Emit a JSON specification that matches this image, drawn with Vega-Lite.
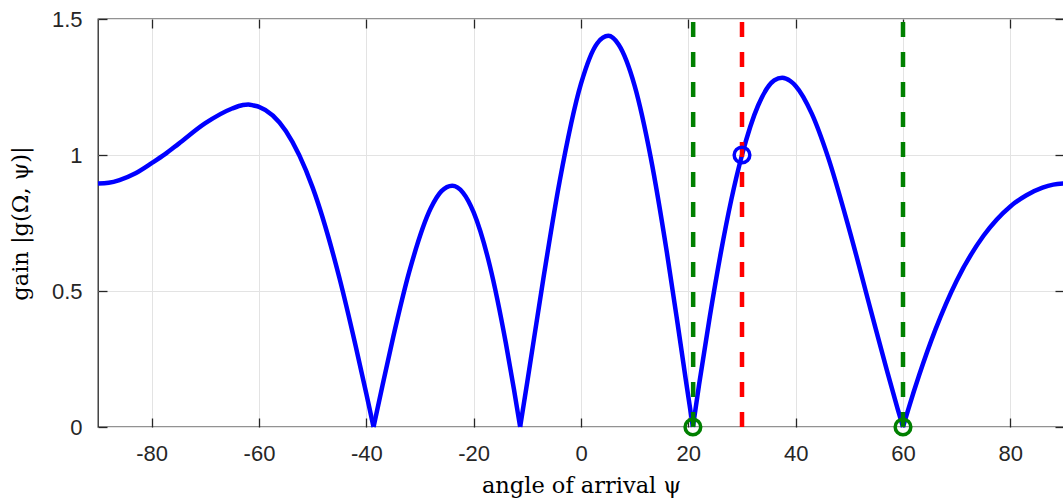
{
  "$schema": "https://vega.github.io/schema/vega-lite/v6.json",
  "width": 966,
  "height": 408,
  "autosize": {"type": "none"},
  "padding": {"left": 98, "top": 19, "right": 0, "bottom": 73},
  "background": "white",
  "config": {
    "view": {"stroke": "#262626", "strokeWidth": 1.3},
    "axis": {
      "labelFont": "Liberation Sans",
      "labelFontSize": 22,
      "labelColor": "#262626",
      "titleFont": "DejaVu Serif",
      "titleFontWeight": "normal",
      "titleColor": "#000000",
      "titleFontSize": 22.5,
      "tickColor": "#262626",
      "tickWidth": 1.3,
      "domainColor": "#262626",
      "gridColor": "#e3e3e3",
      "gridWidth": 1
    }
  },
  "datasets": {
    "curve": [
      {"psi": -90, "g": 0.895, "lobe": 1},
      {"psi": -88, "g": 0.898, "lobe": 1},
      {"psi": -86, "g": 0.908, "lobe": 1},
      {"psi": -83, "g": 0.933, "lobe": 1},
      {"psi": -80, "g": 0.970, "lobe": 1},
      {"psi": -77.5, "g": 1.003, "lobe": 1},
      {"psi": -75, "g": 1.041, "lobe": 1},
      {"psi": -70, "g": 1.117, "lobe": 1},
      {"psi": -65, "g": 1.171, "lobe": 1},
      {"psi": -63, "g": 1.184, "lobe": 1},
      {"psi": -62, "g": 1.186, "lobe": 1},
      {"psi": -61, "g": 1.182, "lobe": 1},
      {"psi": -60, "g": 1.177, "lobe": 1},
      {"psi": -55, "g": 1.088, "lobe": 1},
      {"psi": -50, "g": 0.880, "lobe": 1},
      {"psi": -45, "g": 0.547, "lobe": 1},
      {"psi": -42, "g": 0.299, "lobe": 1},
      {"psi": -40, "g": 0.122, "lobe": 1},
      {"psi": -38.66, "g": 0, "lobe": 1},
      {"psi": -38.66, "g": 0, "lobe": 2},
      {"psi": -37, "g": 0.152, "lobe": 2},
      {"psi": -35, "g": 0.330, "lobe": 2},
      {"psi": -32, "g": 0.571, "lobe": 2},
      {"psi": -28, "g": 0.804, "lobe": 2},
      {"psi": -26, "g": 0.867, "lobe": 2},
      {"psi": -24, "g": 0.887, "lobe": 2},
      {"psi": -22, "g": 0.862, "lobe": 2},
      {"psi": -20, "g": 0.789, "lobe": 2},
      {"psi": -17, "g": 0.594, "lobe": 2},
      {"psi": -14, "g": 0.308, "lobe": 2},
      {"psi": -12.5, "g": 0.139, "lobe": 2},
      {"psi": -11.34, "g": 0, "lobe": 2},
      {"psi": -11.34, "g": 0, "lobe": 3},
      {"psi": -10, "g": 0.167, "lobe": 3},
      {"psi": -7, "g": 0.547, "lobe": 3},
      {"psi": -4, "g": 0.901, "lobe": 3},
      {"psi": 0, "g": 1.262, "lobe": 3},
      {"psi": 3, "g": 1.410, "lobe": 3},
      {"psi": 5.1, "g": 1.438, "lobe": 3},
      {"psi": 7, "g": 1.406, "lobe": 3},
      {"psi": 10, "g": 1.254, "lobe": 3},
      {"psi": 13, "g": 0.990, "lobe": 3},
      {"psi": 16, "g": 0.642, "lobe": 3},
      {"psi": 18, "g": 0.380, "lobe": 3},
      {"psi": 19.5, "g": 0.177, "lobe": 3},
      {"psi": 20.85, "g": 0, "lobe": 3},
      {"psi": 20.85, "g": 0, "lobe": 4},
      {"psi": 22, "g": 0.156, "lobe": 4},
      {"psi": 24, "g": 0.406, "lobe": 4},
      {"psi": 26, "g": 0.635, "lobe": 4},
      {"psi": 28, "g": 0.835, "lobe": 4},
      {"psi": 30, "g": 1.0, "lobe": 4},
      {"psi": 33, "g": 1.182, "lobe": 4},
      {"psi": 36, "g": 1.274, "lobe": 4},
      {"psi": 37.5, "g": 1.284, "lobe": 4},
      {"psi": 39, "g": 1.272, "lobe": 4},
      {"psi": 40, "g": 1.254, "lobe": 4},
      {"psi": 43, "g": 1.152, "lobe": 4},
      {"psi": 46, "g": 0.994, "lobe": 4},
      {"psi": 50, "g": 0.725, "lobe": 4},
      {"psi": 54, "g": 0.429, "lobe": 4},
      {"psi": 57, "g": 0.208, "lobe": 4},
      {"psi": 59, "g": 0.067, "lobe": 4},
      {"psi": 60, "g": 0, "lobe": 4},
      {"psi": 60, "g": 0, "lobe": 5},
      {"psi": 61, "g": 0.066, "lobe": 5},
      {"psi": 63, "g": 0.190, "lobe": 5},
      {"psi": 66, "g": 0.356, "lobe": 5},
      {"psi": 70, "g": 0.538, "lobe": 5},
      {"psi": 75, "g": 0.703, "lobe": 5},
      {"psi": 80, "g": 0.811, "lobe": 5},
      {"psi": 83, "g": 0.852, "lobe": 5},
      {"psi": 86, "g": 0.880, "lobe": 5},
      {"psi": 88, "g": 0.891, "lobe": 5},
      {"psi": 90, "g": 0.895, "lobe": 5}
    ],
    "vlines": [
      {"x": 20.9, "c": "#008000"},
      {"x": 30, "c": "#ff0000"},
      {"x": 60, "c": "#008000"}
    ],
    "markers": [
      {"x": 30, "y": 1, "c": "#0000ff"},
      {"x": 20.85, "y": 0, "c": "#008000"},
      {"x": 60, "y": 0, "c": "#008000"}
    ]
  },
  "layer": [
    {
      "data": {"name": "curve"},
      "mark": {"type": "line", "color": "#0000ff", "strokeWidth": 4.5, "interpolate": "monotone"},
      "encoding": {
        "x": {
          "field": "psi", "type": "quantitative",
          "scale": {"domain": [-90, 90], "nice": false, "zero": false},
          "axis": {"orient": "bottom", "values": [-80, -60, -40, -20, 0, 20, 40, 60, 80], "labelExpr": "replace(datum.label, '−', '-')", "grid": true, "domain": false, "tickSize": -9, "labelPadding": 25, "title": "angle of arrival ψ", "titlePadding": 10}
        },
        "y": {
          "field": "g", "type": "quantitative",
          "scale": {"domain": [0, 1.5], "nice": false},
          "axis": {"orient": "left", "values": [0, 0.5, 1, 1.5], "format": "~g", "grid": true, "domain": false, "tickSize": -9, "labelPadding": 25, "title": "gain |g(Ω, ψ)|", "titlePadding": 19}
        },
        "detail": {"field": "lobe", "type": "nominal"}
      }
    },
    {
      "data": {"name": "vlines"},
      "mark": {"type": "rule", "strokeWidth": 4.5, "strokeDash": [15, 15]},
      "encoding": {
        "x": {
          "field": "x", "type": "quantitative",
          "axis": {"orient": "top", "values": [-80, -60, -40, -20, 0, 20, 40, 60, 80], "labels": false, "grid": false, "domain": false, "tickSize": -9, "title": null}
        },
        "y": {
          "datum": 0, "type": "quantitative",
          "axis": {"orient": "right", "values": [0, 0.5, 1, 1.5], "labels": false, "grid": false, "domain": false, "tickSize": -9, "title": null}
        },
        "y2": {"datum": 1.5},
        "color": {"field": "c", "type": "nominal", "scale": null, "legend": null}
      }
    },
    {
      "data": {"name": "markers"},
      "mark": {"type": "point", "shape": "circle", "filled": false, "size": 245, "strokeWidth": 3.5, "opacity": 1},
      "encoding": {
        "x": {"field": "x", "type": "quantitative", "axis": null},
        "y": {"field": "y", "type": "quantitative", "axis": null},
        "stroke": {"field": "c", "type": "nominal", "scale": null, "legend": null}
      }
    }
  ],
  "resolve": {"axis": {"x": "independent", "y": "independent"}}
}
